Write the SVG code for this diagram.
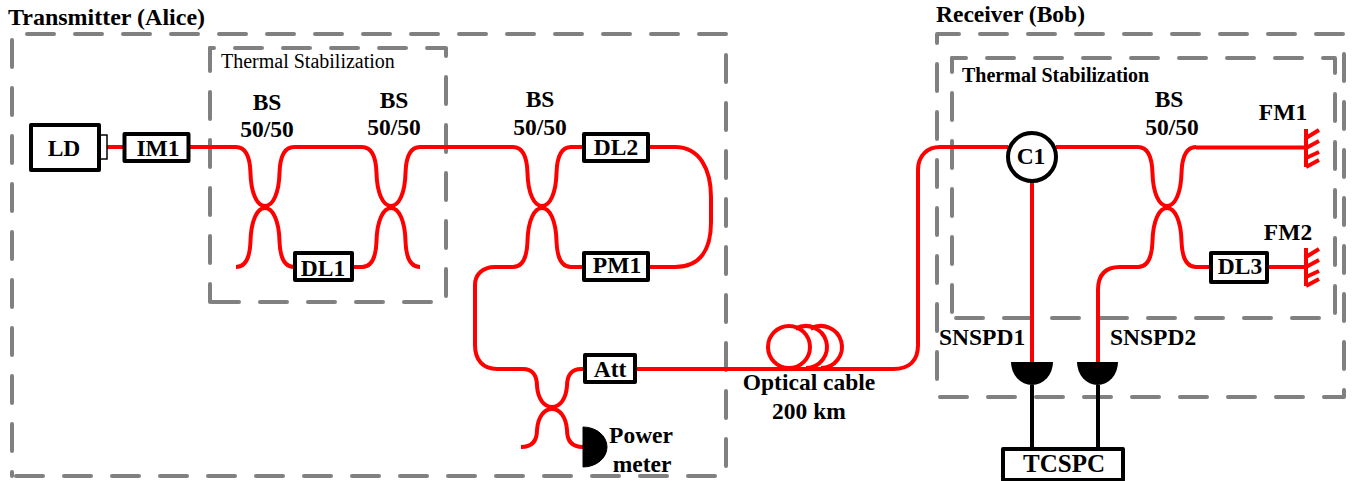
<svg xmlns="http://www.w3.org/2000/svg" width="1354" height="481" viewBox="0 0 1354 481">
<style>
text{font-family:"Liberation Serif","Times New Roman",serif;fill:#000}
.b{font-weight:bold;font-size:23.5px}
.m{text-anchor:middle}
.t{font-size:20px}
.tb{font-size:20px;font-weight:bold}
.d{fill:none;stroke:#808080;stroke-width:4;stroke-dasharray:27 21;stroke-linecap:round;stroke-linejoin:round}
.f{fill:none;stroke:#f00;stroke-width:4;stroke-linecap:butt}
.w{fill:none;stroke:#000;stroke-width:4}
.box{fill:#fff;stroke:#000;stroke-width:4;stroke-linejoin:round}
.thin{fill:#fff;stroke:#000;stroke-width:1.5}
</style>
<defs>
<g id="bs"><path class="f" d="M-29 -60C-19 -60 -15 -50 -14.500 -34C-14 -14 -8 -1 0 -1C8 -1 14 -14 14.500 -34C15 -50 19 -60 29 -60"/><path class="f" d="M-29 60C-19 60 -15 50 -14.500 34C-14 14 -8 1 0 1C8 1 14 14 14.500 34C15 50 19 60 29 60"/></g>
<g id="bsh"><path class="f" d="M-29 -39C-20 -39 -15 -33 -15 -22C-14 -9 -8 -1 0 -1C8 -1 14 -9 15 -22C15 -33 20 -39 29 -39"/><path class="f" d="M-31 39C-20 39 -15 33 -15 22C-14 9 -8 1 0 1C8 1 14 9 15 22C15 33 20 39 31 39"/></g>
<g id="fm"><path class="f" d="M1306 129V167M1306 138L1319 130M1306 148L1319 141M1306 158L1319 152M1306 167L1319 160"/></g>
</defs>
<g id="frames">
<path class="d" style="stroke-dashoffset:33" d="M12 34H726V476H12"/>
<path class="d" style="stroke-dashoffset:42" d="M12 34V476"/>
<path class="d" style="stroke-dashoffset:23" d="M210 48H446V302H210"/>
<path class="d" style="stroke-dashoffset:4" d="M210 48V302"/>
<path class="d" style="stroke-dashoffset:5" d="M937 34H1344V397H937V34"/>
<path class="d" style="stroke-dashoffset:13" d="M952 58H1335V318H952"/>
<path class="d" style="stroke-dashoffset:13" d="M952 58V318"/>
</g>
<g id="connectors">
<path class="f" d="M107 147H124M188 147H236M294 147H362M420 147H513M571 147H584M648 147H675C700 147 711 170 711 197V222C711 250 700 267 675 267H648M584 267H571M513 267H495C482 267 475 275 475 285V345C475 360 483 369 497 369H523M581 369H585M635 369H893C910 369 918 360 918 345V170C918 155 928 147 940 147H1008M1056 147H1138M1196 147.500H1306M1032 181V362M1138 267H1120C1105 267 1098 275 1098 290V362M1196 267H1211M1267 267H1306M583 447H585M352 267H362"/>
<use href="#bs" x="265" y="207"/>
<use href="#bs" x="391" y="207"/>
<use href="#bs" x="542" y="207"/>
<use href="#bsh" x="552" y="408"/>
<use href="#bs" x="1167" y="207"/>
<path class="f" d="M795.500 328.800A21 21 0 1 1 806 368M810.500 328.800A21 21 0 1 1 821 368"/>
<circle class="f" cx="789" cy="347" r="21"/>
<path class="w" d="M1032 385V449M1098 385V449"/>
</g>
<g id="labels">
<text class="b" style="font-size:24px" x="8" y="25">Transmitter (Alice)</text>
<text class="b" x="936" y="22">Receiver (Bob)</text>
<text class="t" x="221" y="68">Thermal Stabilization</text>
<text class="tb" x="962" y="82">Thermal Stabilization</text>
<text class="b m" x="267" y="110">BS</text><text class="b m" x="267" y="137">50/50</text>
<text class="b m" x="394" y="108">BS</text><text class="b m" x="394" y="135">50/50</text>
<text class="b m" x="540" y="107">BS</text><text class="b m" x="540" y="135">50/50</text>
<text class="b m" x="1169" y="107">BS</text><text class="b m" x="1172" y="135">50/50</text>
<text class="b m" x="1283" y="120">FM1</text>
<text class="b m" x="1288" y="240">FM2</text>
<text class="b" x="939" y="345">SNSPD1</text>
<text class="b" x="1110" y="345">SNSPD2</text>
<text class="b m" x="809" y="390">Optical cable</text>
<text class="b m" x="809" y="419">200 km</text>
<text class="b m" x="641" y="443">Power</text>
<text class="b m" x="642" y="472">meter</text>
</g>
<g id="LD"><rect class="thin" x="99" y="135" width="8" height="24"/><rect class="box" x="31" y="125" width="68" height="45"/><text class="b m" x="64" y="156">LD</text></g>
<g id="IM1"><rect class="box" x="124.500" y="134" width="64" height="27"/><text class="b m" x="158" y="156">IM1</text></g>
<g id="DL1"><rect class="box" x="295" y="253" width="57" height="27"/><text class="b m" x="323" y="276">DL1</text></g>
<g id="DL2"><rect class="box" x="584" y="134" width="64" height="27"/><text class="b m" x="616" y="155">DL2</text></g>
<g id="PM1"><rect class="box" x="584" y="253" width="64" height="27"/><text class="b m" x="617" y="273">PM1</text></g>
<g id="Att"><rect class="box" x="585" y="355" width="50" height="27"/><text class="b m" x="610" y="377">Att</text></g>
<g id="PowerMeter"><path d="M583 427A24 20 0 0 1 583 467Z" stroke="#000" stroke-width="1"/></g>
<g id="C1"><circle cx="1032" cy="157" r="24" fill="#fff" stroke="#000" stroke-width="4"/><text class="b m" x="1031" y="164">C1</text></g>
<g id="DL3"><rect class="box" x="1211" y="253" width="56" height="29"/><text class="b m" x="1240" y="274">DL3</text></g>
<g id="FM1"><use href="#fm"/></g>
<g id="FM2"><use href="#fm" y="119"/></g>
<g id="SNSPD1"><path d="M1011 362H1053A21 23 0 0 1 1011 362Z"/></g>
<g id="SNSPD2"><path d="M1077 362H1118A20.500 23 0 0 1 1077 362Z"/></g>
<g id="TCSPC"><rect class="box" x="1003" y="449" width="120" height="31"/><text class="b m" style="font-size:25px" x="1064" y="472">TCSPC</text></g>
</svg>
